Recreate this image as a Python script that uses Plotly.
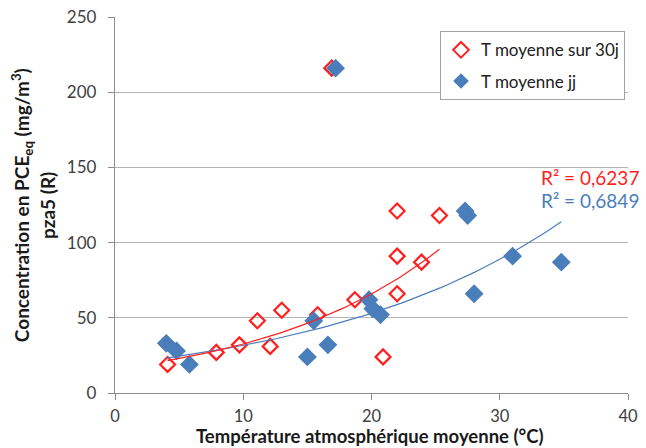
import numpy as np
import plotly.graph_objects as go

# T moyenne sur 30j (open red diamonds)
x30 = [4.1, 7.9, 9.7, 11.1, 12.1, 13.0, 15.8, 18.7, 20.9, 22.0, 22.0, 22.0, 23.9, 25.3, 16.9]
y30 = [19, 27, 32, 48, 31, 55, 52, 62, 24, 66, 91, 121, 87, 118, 216]
# T moyenne jj (filled blue diamonds)
xjj = [4.0, 4.8, 5.8, 15.0, 15.5, 16.6, 19.8, 20.1, 20.7, 17.2, 27.3, 27.5, 28.0, 31.0, 34.8]
yjj = [33, 28, 19, 24, 48, 32, 62, 56, 52, 216, 121, 118, 66, 91, 87]

x_ticks = [0, 10, 20, 30, 40]
y_ticks = [0, 50, 100, 150, 200, 250]
r2_labels = ["R² = 0,6237", "R² = 0,6849"]

RED = "#FF1F1F"
BLUE = "#4A7EBB"
FONT = "Lato"

def expfit(x, y):
    x = np.array(x); y = np.array(y)
    m = y < 200  # outlier excluded from the trend
    b, ln_a = np.polyfit(x[m], np.log(y[m]), 1)
    xs = np.linspace(x[m].min(), x[m].max(), 60)
    return xs, np.exp(ln_a) * np.exp(b * xs)

fig = go.Figure()
fig.add_trace(go.Scatter(x=x30, y=y30, mode="markers", name="T moyenne sur 30j", legendgroup="a",
                         marker=dict(symbol="diamond-open", size=11.5, color=RED, line=dict(width=2.2, color=RED))))
fig.add_trace(go.Scatter(x=xjj, y=yjj, mode="markers", name="T moyenne jj", legendgroup="b",
                         marker=dict(symbol="diamond", size=14.5, color=BLUE, line=dict(width=0))))
xs, ys = expfit(xjj, yjj)
fig.add_trace(go.Scatter(x=xs, y=ys, mode="lines", showlegend=False, line=dict(color=BLUE, width=1.2)))
xs, ys = expfit(x30, y30)
fig.add_trace(go.Scatter(x=xs, y=ys, mode="lines", showlegend=False, line=dict(color=RED, width=1.2)))

axis_common = dict(showline=True, linecolor="#8c8c8c", linewidth=1.3, automargin=False,
                   ticks="outside", ticklen=6, tickcolor="#8c8c8c", zeroline=False)

fig.update_layout(
    width=646, height=448,
    margin=dict(l=115, r=18, t=17, b=55, autoexpand=False),
    plot_bgcolor="white", paper_bgcolor="white",
    font=dict(family=FONT, size=15, color="#404040"),
    legend=dict(x=(440 - 115) / 513, y=0.962, xanchor="left", yanchor="top",
                bordercolor="#a0a0a0", borderwidth=1, bgcolor="white",
                font=dict(size=17, color="#202020"), tracegroupgap=6,
                traceorder="grouped", itemwidth=30, itemsizing="constant"),
    xaxis=dict(range=[0, 40], tickvals=x_ticks, showgrid=False, ticklabelstandoff=2,
               tickfont=dict(size=16.5, color="#404040"), **axis_common),
    yaxis=dict(range=[0, 250], tickvals=y_ticks, showgrid=True, ticklabelstandoff=8,
               tickfont=dict(size=17, color="#404040"),
               gridcolor="#b4b4b4", gridwidth=1.2, **axis_common),
    showlegend=True,
)

fig.add_annotation(text="<b>Concentration en PCE<sub>eq</sub> (mg/m<sup>3</sup>)</b>", xref="paper", yref="paper",
                   x=-0.181, y=0.5, xanchor="center", yanchor="middle", textangle=-90, showarrow=False,
                   font=dict(size=19, color="#1a1a1a", family=FONT))
fig.add_annotation(text="<b>pza5 (R)</b>", xref="paper", yref="paper",
                   x=-0.1326, y=0.5, xanchor="center", yanchor="middle", textangle=-90, showarrow=False,
                   font=dict(size=19, color="#1a1a1a", family=FONT))
fig.add_annotation(text="<b>Température atmosphérique moyenne (°C)</b>", xref="paper", yref="paper",
                   x=0.497, y=(393 - 436.5) / 376, xanchor="center", yanchor="middle", showarrow=False,
                   font=dict(size=18.5, color="#1a1a1a", family=FONT))
fig.add_annotation(text=r2_labels[0], xref="paper", yref="paper", x=1.025, y=0.572,
                   xanchor="right", yanchor="middle", showarrow=False,
                   font=dict(size=19, color=RED, family=FONT))
fig.add_annotation(text=r2_labels[1], xref="paper", yref="paper", x=1.025, y=0.511,
                   xanchor="right", yanchor="middle", showarrow=False,
                   font=dict(size=19, color=BLUE, family=FONT))

fig.write_html("out.html", config={"displayModeBar": False},
               post_script="document.body.style.margin='0';document.body.style.padding='0';")
